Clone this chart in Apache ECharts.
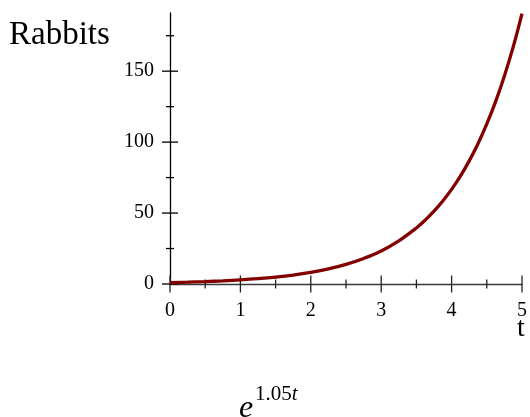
<!DOCTYPE html>
<html>
<head>
<meta charset="utf-8">
<script src="https://cdn.jsdelivr.net/npm/echarts@6/dist/echarts.min.js"></script>
<style>
html,body{margin:0;padding:0;background:#fff;}
#c{width:530px;height:417px;}
</style>
</head>
<body>
<div id="c"></div>
<script>
// t values and rabbit counts
const tValues = [0, 0.25, 0.5, 0.75, 1, 1.25, 1.5, 1.75, 2, 2.25, 2.5, 2.75, 3, 3.25, 3.5, 3.625, 3.75, 3.875, 4, 4.125, 4.25, 4.375, 4.5, 4.625, 4.75, 4.875, 5];
const rabbits = [1, 1.3, 1.69, 2.2, 2.86, 3.72, 4.83, 6.28, 8.17, 10.6, 13.8, 18.0, 23.3, 30.4, 39.5, 45.0, 51.3, 58.5, 66.7, 76.0, 86.8, 98.9, 112.8, 128.5, 146.6, 167.1, 190.6];
const yMajorTicks = [0, 50, 100, 150];
const yMinorTicks = [25, 75, 125, 175];
const xMajorTicks = [0, 1, 2, 3, 4, 5];
const xMinorTicks = [0.5, 1.5, 2.5, 3.5, 4.5];

const serif = "'Liberation Serif', 'Times New Roman', serif";
const chart = echarts.init(document.getElementById('c'));

// tick marks crossing the axis, placed through the axis scales
function tickSeries(values, onX, half, color) {
  return {
    type: 'custom', xAxisIndex: 0, yAxisIndex: 0, clip: false, silent: true, z: 3,
    data: values.map(v => onX ? [v, 0] : [0, v]),
    renderItem: function (params, api) {
      const p = api.coord([api.value(0), api.value(1)]);
      const shape = onX
        ? {x1: p[0], y1: p[1] - half, x2: p[0], y2: p[1] + half}
        : {x1: p[0] - half, y1: p[1], x2: p[0] + half, y2: p[1]};
      return {type: 'line', shape: shape, style: {stroke: color, lineWidth: 1.3}};
    }
  };
}

chart.setOption({
  animation: false,
  grid: {left: 170, right: 4, top: 13, bottom: 133, containLabel: false},
  xAxis: {
    type: 'value', min: 0, max: 5, interval: 1,
    splitLine: {show: false},
    axisLine: {onZero: false, lineStyle: {color: '#3a3a3a', width: 1.3}},
    axisTick: {show: false},
    axisLabel: {customValues: xMajorTicks, margin: 17, color: '#000', fontFamily: serif, fontSize: 20}
  },
  yAxis: {
    type: 'value', min: 0, max: 191,
    splitLine: {show: false},
    axisLine: {onZero: false, lineStyle: {color: '#000', width: 1.3}},
    axisTick: {show: false},
    axisLabel: {customValues: yMajorTicks, margin: 16, color: '#000', fontFamily: serif, fontSize: 20}
  },
  series: [
    {
      type: 'line',
      data: tValues.map((t, i) => [t, rabbits[i]]),
      smooth: 0.4,
      showSymbol: false,
      lineStyle: {color: '#830000', width: 3.3},
      z: 5
    },
    tickSeries(xMajorTicks, true, 8.5, '#222'),
    tickSeries(xMinorTicks, true, 4.5, '#222'),
    tickSeries(yMajorTicks, false, 8, '#000'),
    tickSeries(yMinorTicks, false, 4, '#000')
  ],
  graphic: [
    {type: 'text', left: 9, top: 19, style: {text: 'Rabbits', font: "33px " + serif, fill: '#000'}},
    {type: 'text', x: 521, y: 329, style: {text: 't', font: "28px " + serif, fill: '#000', align: 'center', verticalAlign: 'middle'}},
    {type: 'text', x: 239, y: 409, style: {text: 'e', font: "italic 32px " + serif, fill: '#000', align: 'left', verticalAlign: 'middle'}},
    {type: 'text', x: 255, y: 394, style: {
      text: '{a|1.05}{b|t}', fill: '#000', align: 'left', verticalAlign: 'middle',
      rich: {a: {fontFamily: serif, fontSize: 21, fill: '#000'}, b: {fontFamily: serif, fontSize: 21, fontStyle: 'italic', fill: '#000'}}
    }}
  ]
});
</script>
</body>
</html>
